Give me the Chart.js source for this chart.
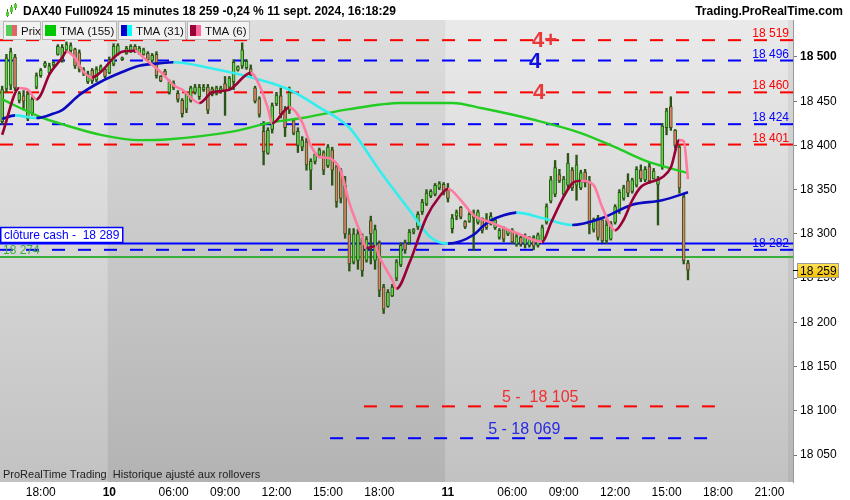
<!DOCTYPE html>
<html><head><meta charset="utf-8">
<script src="https://cdn.jsdelivr.net/npm/chart.js@4.4.1/dist/chart.umd.min.js"></script>
<style>html,body{margin:0;padding:0;background:#fff;overflow:hidden}canvas{display:block}</style>
</head><body>
<canvas id="c" width="850" height="500"></canvas>
<script>
// ---- data (15-minute candles, index 0 = 9 Sept 15:45) ----
const openP = [18427,18464,18468,18500,18451,18456,18430,18437,18466,18479,18490,18482,18491,18503,18496,18508,18507,18509,18505,18482,18472,18485,18474,18484,18486,18482,18492,18503,18497,18504,18506,18512,18504,18503,18504,18496,18503,18478,18484,18460,18470,18459,18451,18441,18451,18460,18455,18463,18466,18464,18459,18461,18470,18466,18472,18485,18490,18488,18487,18465,18453,18416,18391,18418,18447,18456,18440,18440,18428,18400,18398,18404,18372,18382,18389,18392,18377,18395,18376,18372,18355,18300,18268,18270,18295,18270,18315,18270,18290,18240,18218,18230,18250,18265,18290,18290,18302,18308,18325,18334,18343,18345,18352,18356,18350,18306,18320,18330,18314,18314,18322,18313,18318,18314,18312,18307,18296,18306,18300,18304,18288,18296,18288,18287,18296,18287,18292,18313,18337,18345,18367,18345,18355,18372,18355,18352,18370,18360,18305,18318,18316,18292,18294,18313,18326,18340,18360,18348,18355,18372,18361,18376,18362,18356,18376,18420,18444,18417,18398,18342,18267];
const highP = [18467,18503,18510,18503,18461,18462,18461,18455,18482,18487,18495,18493,18495,18514,18514,18517,18516,18510,18508,18488,18484,18487,18489,18491,18488,18500,18515,18515,18500,18512,18514,18514,18512,18510,18506,18504,18506,18479,18486,18474,18473,18462,18453,18460,18467,18469,18469,18469,18469,18466,18467,18467,18478,18478,18497,18490,18516,18497,18491,18467,18455,18427,18420,18448,18460,18465,18444,18466,18430,18420,18410,18408,18385,18392,18397,18394,18401,18398,18378,18374,18365,18306,18306,18305,18300,18297,18320,18310,18292,18243,18237,18243,18271,18290,18293,18305,18306,18325,18339,18350,18350,18357,18359,18358,18357,18322,18327,18331,18315,18325,18327,18327,18318,18323,18324,18318,18306,18308,18305,18306,18300,18298,18300,18297,18298,18301,18310,18334,18365,18383,18373,18365,18391,18375,18389,18372,18373,18365,18318,18321,18316,18316,18314,18333,18350,18355,18368,18363,18376,18378,18376,18380,18374,18365,18425,18442,18455,18418,18400,18346,18270];
const lowP = [18424,18460,18463,18462,18448,18440,18428,18434,18464,18477,18488,18481,18489,18502,18494,18505,18504,18487,18483,18479,18470,18470,18472,18483,18476,18481,18490,18502,18496,18503,18505,18505,18503,18502,18495,18494,18476,18472,18478,18458,18463,18449,18432,18437,18449,18458,18452,18461,18436,18456,18457,18459,18434,18464,18463,18484,18487,18486,18478,18448,18432,18378,18390,18414,18445,18431,18410,18436,18412,18392,18394,18372,18350,18379,18386,18367,18375,18355,18330,18335,18295,18258,18266,18260,18252,18268,18266,18260,18229,18210,18217,18229,18247,18263,18278,18288,18300,18305,18322,18332,18341,18343,18350,18344,18336,18301,18316,18317,18306,18313,18281,18311,18301,18305,18310,18305,18294,18291,18298,18289,18286,18286,18284,18285,18282,18285,18290,18311,18335,18342,18358,18342,18350,18349,18338,18350,18353,18300,18302,18293,18290,18289,18293,18311,18323,18338,18342,18346,18353,18359,18359,18357,18362,18310,18373,18412,18417,18397,18346,18266,18248];
const closeP = [18463,18499,18506,18465,18459,18450,18458,18452,18479,18485,18493,18490,18494,18512,18511,18514,18513,18490,18486,18486,18481,18473,18486,18489,18478,18497,18512,18513,18499,18510,18512,18507,18510,18508,18497,18502,18479,18473,18480,18472,18465,18452,18436,18458,18465,18466,18466,18466,18440,18458,18465,18465,18462,18476,18494,18489,18508,18495,18480,18450,18435,18393,18417,18445,18457,18436,18420,18460,18414,18416,18406,18378,18382,18390,18395,18372,18398,18372,18336,18340,18300,18266,18300,18300,18258,18294,18300,18305,18236,18215,18234,18240,18268,18287,18282,18302,18305,18322,18336,18346,18348,18355,18357,18346,18340,18318,18324,18319,18308,18322,18318,18325,18304,18307,18320,18316,18304,18294,18304,18291,18297,18288,18297,18295,18286,18299,18307,18331,18361,18375,18360,18362,18380,18352,18378,18369,18358,18310,18316,18296,18292,18310,18312,18331,18347,18352,18346,18361,18373,18362,18373,18360,18371,18362,18422,18439,18420,18400,18352,18270,18259];

// moving averages: [bar index, value]
const tma155 = [[0,18452],[9,18432],[14,18424],[23,18412],[32,18406],[39,18407],[53,18415],[63,18426],[70,18431],[81,18441],[93,18448],[105,18448],[112,18442],[124,18429],[135,18414],[143,18398],[151,18381],[160,18369]];
const tma31 = [[0,18430],[3,18434],[8,18431],[12,18436],[14,18440],[18,18457],[23,18472],[28,18483],[32,18490],[37,18493],[40,18494],[49,18487],[58,18477],[67,18463],[74,18443],[81,18420],[88,18372],[95,18327],[100,18296],[104,18289],[110,18299],[112,18308],[114,18315],[117,18321],[120,18324],[126,18318],[133,18310],[140,18318],[147,18333],[154,18338],[160,18347]];
const tma6 = [[0,18412],[4,18465],[6,18463],[8,18452],[9,18457],[11,18480],[14,18499],[15,18506],[17,18499],[19,18483],[21,18477],[23,18483],[26,18499],[28,18506],[31,18507],[33,18499],[37,18483],[40,18468],[42,18463],[46,18448],[49,18460],[53,18463],[58,18482],[60,18468],[62,18442],[63,18425],[67,18443],[70,18426],[72,18400],[74,18387],[76,18386],[79,18371],[81,18335],[84,18296],[85,18284],[87,18286],[88,18274],[91,18248],[92,18238],[95,18267],[99,18319],[102,18342],[104,18351],[107,18338],[110,18321],[114,18313],[120,18301],[126,18291],[128,18312],[131,18342],[133,18357],[135,18360],[138,18355],[140,18330],[143,18304],[145,18316],[147,18338],[149,18353],[154,18364],[156,18375],[158,18406],[159,18405],[160,18362]];

// x-axis tick labels
const tickIdx  = [9,25,40,52,64,76,88,104,119,131,143,155,167,179];
const tickText = ["18:00","10","06:00","09:00","12:00","15:00","18:00","11","06:00","09:00","12:00","15:00","18:00","21:00"];
const dayStarts = [0,25,104];
const dayTicks = [25,104];

// horizontal levels
const redLevels  = [18519,18460,18401];
const blueLevels = [18496,18424];
const bigLabels  = ["4+","4","4"];
const bigLevels  = [18519,18496,18460];
const closeCash  = 18289;
const blueDash   = 18282;
const greenLevel = 18274;
const target5Red = 18105;
const target5Blue = 18069;
const lastPrice  = 18259;

// ---- drawing ----
const F = '"Liberation Sans", Arial, sans-serif';
const fmt = v => String(Math.round(v)).replace(/\B(?=(\d{3})+(?!\d))/g, ' ');
const DARK = '#2a5514', UP = '#5fd84a', DOWN = '#e5806c';
const RED = '#ff0000', BLUE = '#0000ff';

const wickData = [], bodyData = [];
for (let i = 0; i < openP.length; i++) {
  wickData.push({x: i, y: [lowP[i], highP[i]]});
  bodyData.push({x: i, y: [openP[i], closeP[i]]});
}
const pts = arr => arr.map(p => ({x: p[0], y: p[1]}));

function hline(ctx, y, x0, x1, color, width, dash) {
  ctx.save();
  ctx.beginPath();
  ctx.strokeStyle = color; ctx.lineWidth = width;
  ctx.setLineDash(dash || []);
  ctx.moveTo(x0, y); ctx.lineTo(x1, y); ctx.stroke();
  ctx.restore();
}

const deco = {
  id: 'deco',
  beforeDraw(chart) {
    const {ctx, chartArea: a, scales: {x}} = chart;
    ctx.save();
    ctx.fillStyle = '#fff'; ctx.fillRect(0, 0, chart.width, chart.height);
    const b = dayStarts.map(i => x.getPixelForValue(i - 0.5)).concat([a.right]);
    for (let k = 0; k < dayStarts.length; k++) {
      const x0 = Math.max(a.left, b[k]), x1 = Math.min(a.right, b[k + 1]);
      const g = ctx.createLinearGradient(0, a.top, 0, a.bottom);
      if (k % 2 === 1) { g.addColorStop(0, '#dedede'); g.addColorStop(1, '#b3b3b3'); }
      else { g.addColorStop(0, '#eaeaea'); g.addColorStop(1, '#c2c2c2'); }
      ctx.fillStyle = g; ctx.fillRect(x0, a.top, x1 - x0, a.bottom - a.top);
    }
    ctx.fillStyle = 'rgba(0,0,0,0.06)'; ctx.fillRect(a.right - 5, a.top, 5, a.bottom - a.top);
    ctx.restore();
  },
  beforeDatasetsDraw(chart) {
    const {ctx, chartArea: a, scales: {x, y}} = chart;
    const D = [13, 13];
    redLevels.forEach(v => hline(ctx, y.getPixelForValue(v), a.left, a.right, RED, 2, D));
    blueLevels.forEach(v => hline(ctx, y.getPixelForValue(v), a.left, a.right, BLUE, 2, D));
    hline(ctx, y.getPixelForValue(blueDash), a.left, a.right, BLUE, 2, D);
    hline(ctx, y.getPixelForValue(closeCash), a.left, a.right, BLUE, 2);
    hline(ctx, y.getPixelForValue(greenLevel), a.left, a.right, '#3aae3a', 2);
    hline(ctx, y.getPixelForValue(target5Red), x.getPixelForValue(84.4), x.getPixelForValue(166.4), RED, 2, D);
    hline(ctx, y.getPixelForValue(target5Blue), x.getPixelForValue(76.5), x.getPixelForValue(164.5), BLUE, 2, D);
  },
  afterDraw(chart) {
    const {ctx, chartArea: a, scales: {x, y}} = chart;
    ctx.save();
    // right-side level labels
    ctx.font = '12px ' + F; ctx.textAlign = 'right'; ctx.textBaseline = 'alphabetic';
    redLevels.forEach(v => { ctx.fillStyle = RED; ctx.fillText(fmt(v), a.right - 4, y.getPixelForValue(v) - 3); });
    blueLevels.forEach(v => { ctx.fillStyle = BLUE; ctx.fillText(fmt(v), a.right - 4, y.getPixelForValue(v) - 3); });
    ctx.fillStyle = BLUE; ctx.fillText(fmt(blueDash), a.right - 4, y.getPixelForValue(blueDash) - 3);

    // big target numbers
    ctx.font = 'bold 22px ' + F; ctx.textAlign = 'left'; ctx.textBaseline = 'middle';
    const bigX = [123.6, 122.9, 123.85], bigC = ['#e83a3a', '#1010e0', '#e83a3a'];
    bigLabels.forEach((t, k) => { ctx.fillStyle = bigC[k]; ctx.fillText(t, x.getPixelForValue(bigX[k]), y.getPixelForValue(bigLevels[k]) + 1); });

    // 5 targets
    ctx.font = '16px ' + F; ctx.textBaseline = 'alphabetic';
    ctx.fillStyle = '#f03030'; ctx.fillText('5 -  ' + fmt(target5Red), x.getPixelForValue(116.6), y.getPixelForValue(target5Red) - 4);
    ctx.fillStyle = '#2a2ae0'; ctx.fillText('5 - ' + fmt(target5Blue), x.getPixelForValue(113.4), y.getPixelForValue(target5Blue) - 4);

    // close cash box
    const yc = Math.round(y.getPixelForValue(closeCash));
    ctx.fillStyle = '#fff'; ctx.fillRect(0, yc - 17, 123, 16);
    ctx.strokeStyle = BLUE; ctx.lineWidth = 1.5; ctx.strokeRect(0.75, yc - 16.5, 122, 15);
    ctx.font = '12px ' + F; ctx.fillStyle = BLUE;
    ctx.fillText('clôture cash -  ' + fmt(closeCash), 4, yc - 5);
    ctx.fillStyle = '#3aae3a';
    ctx.fillText(fmt(greenLevel), 3, y.getPixelForValue(greenLevel) - 3);

    // last price tag
    const yl = Math.round(y.getPixelForValue(lastPrice));
    const g = ctx.createLinearGradient(0, yl - 7, 0, yl + 8);
    g.addColorStop(0, '#ffe35a'); g.addColorStop(1, '#f2bd00');
    ctx.fillStyle = g; ctx.fillRect(a.right + 4, yl - 7, 42, 15);
    ctx.strokeStyle = '#9a9a9a'; ctx.lineWidth = 1; ctx.strokeRect(a.right + 4.5, yl - 6.5, 41, 14);
    hline(ctx, yl + 0.5, a.right, a.right + 5, '#000', 1);
    ctx.fillStyle = '#000'; ctx.font = '12px ' + F;
    ctx.fillText(fmt(lastPrice), a.right + 7, yl + 5);

    // footer note
    ctx.font = '11px ' + F; ctx.fillStyle = '#222';
    ctx.fillText('ProRealTime Trading  Historique ajusté aux rollovers', 3, a.bottom - 4);

    // header
    ctx.fillStyle = '#fff'; ctx.fillRect(0, 0, chart.width, 20);
    ctx.fillStyle = '#000'; ctx.font = 'bold 12px ' + F;
    ctx.fillText('DAX40 Full0924 15 minutes 18 259 -0,24 % 11 sept. 2024, 16:18:29', 23, 15);
    ctx.textAlign = 'right';
    ctx.fillText('Trading.ProRealTime.com', 843, 15);
    ctx.textAlign = 'left';
    // icon
    [[7, 9, 17, 12, 16], [11, 5, 14, 7, 12], [15, 3, 10, 4, 8]].forEach(c => {
      ctx.strokeStyle = '#3b7a1a'; ctx.lineWidth = 1;
      ctx.beginPath(); ctx.moveTo(c[0] + 0.5, c[1]); ctx.lineTo(c[0] + 0.5, c[2]); ctx.stroke();
      ctx.fillStyle = '#55cc33'; ctx.fillRect(c[0] - 1, c[3], 3, c[4] - c[3]);
    });

    // legend row
    const items = [[3, 41, 'Prix', '#55cc55', '#e06666'], [42, 117, 'TMA (155)', '#00c800', '#00c800'],
                   [118, 186, 'TMA (31)', '#0000cc', '#00ffff'], [187, 250, 'TMA (6)', '#99003a', '#ff6699']];
    items.forEach(it => {
      ctx.fillStyle = '#f2f2f2'; ctx.fillRect(it[0], 21, it[1] - it[0], 19);
      ctx.strokeStyle = '#b8b8b8'; ctx.lineWidth = 1; ctx.strokeRect(it[0] + 0.5, 21.5, it[1] - it[0] - 1, 18);
      ctx.fillStyle = it[3]; ctx.fillRect(it[0] + 3, 25, 6, 11);
      ctx.fillStyle = it[4]; ctx.fillRect(it[0] + 9, 25, 5, 11);
      ctx.fillStyle = '#111'; ctx.font = '11.5px ' + F;
      ctx.fillText(it[2], it[0] + 18, 35);
    });
    ctx.restore();
  }
};

Chart.defaults.font.family = F;
new Chart(document.getElementById('c'), {
  type: 'bar',
  data: {
    datasets: [
      {type: 'line', data: pts(tma6), borderWidth: 2.6, pointRadius: 0, cubicInterpolationMode: 'monotone', order: 1,
       borderColor: '#990035', segment: {borderColor: c => c.p1.parsed.y >= c.p0.parsed.y ? '#990035' : '#ff7aa0'}},
      {type: 'line', data: pts(tma31), borderWidth: 2.6, pointRadius: 0, cubicInterpolationMode: 'monotone', order: 2,
       borderColor: '#0a0ac0', segment: {borderColor: c => c.p1.parsed.y >= c.p0.parsed.y ? '#0a0ac0' : '#33eeee'}},
      {type: 'line', data: pts(tma155), borderWidth: 2.4, pointRadius: 0, cubicInterpolationMode: 'monotone', order: 3,
       borderColor: '#22cc22'},
      {type: 'bar', data: bodyData, barThickness: 3, borderWidth: 1, borderColor: DARK, borderSkipped: false,
       minBarLength: 1, grouped: false, order: 4,
       backgroundColor: c => closeP[c.dataIndex] >= openP[c.dataIndex] ? UP : DOWN},
      {type: 'bar', data: wickData, barThickness: 1.7, borderWidth: 0, backgroundColor: DARK, grouped: false, order: 5}
    ]
  },
  options: {
    responsive: false, animation: false, devicePixelRatio: 1,
    layout: {padding: {top: 20, left: 0, right: 0, bottom: 0}},
    plugins: {legend: {display: false}, tooltip: {enabled: false}, title: {display: false}},
    scales: {
      x: {
        type: 'linear', min: -0.5, max: 184.5, offset: false,
        grid: {display: false, drawTicks: false, offset: false}, border: {display: false},
        afterBuildTicks: s => { s.ticks = tickIdx.map(v => ({value: v})); },
        afterFit: s => { s.height = 18; },
        ticks: {
          autoSkip: false, maxRotation: 0, padding: 3, color: '#000',
          font: c => ({family: F, size: 12, weight: dayTicks.includes(c.tick && c.tick.value) ? 'bold' : 'normal'}),
          callback: v => { const k = tickIdx.indexOf(v); return k < 0 ? '' : tickText[k]; }
        }
      },
      y: {
        position: 'right', min: 18019.5, max: 18541.8,
        grid: {drawOnChartArea: false, drawTicks: true, tickLength: 4, color: '#777'},
        border: {display: true, color: '#999'},
        afterFit: s => { s.width = 57; },
        ticks: {
          stepSize: 50, includeBounds: false, padding: 3, color: '#000',
          font: c => ({family: F, size: 12, weight: (c.tick && c.tick.value % 500 === 0) ? 'bold' : 'normal'}),
          callback: v => fmt(v)
        }
      }
    }
  },
  plugins: [deco]
});
</script>
</body></html>
